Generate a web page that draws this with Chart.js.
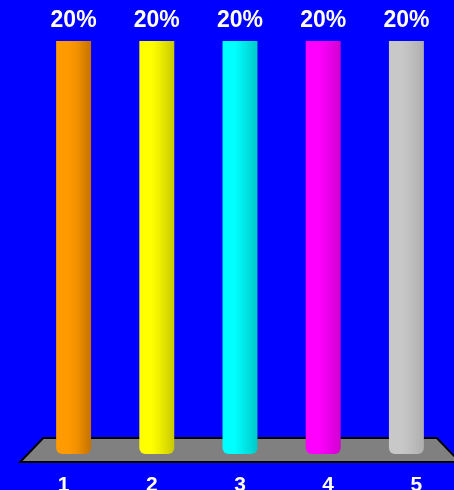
<!DOCTYPE html>
<html>
<head>
<meta charset="utf-8">
<script src="https://cdn.jsdelivr.net/npm/chart.js@4"></script>
<style>
html,body{margin:0;padding:0;background:#0000FF;}
#wrap{width:454px;height:490px;position:relative;}
</style>
</head>
<body>
<div id="wrap"><canvas id="c" width="454" height="490"></canvas></div>
<script>
const categories = ['1', '2', '3', '4', '5'];
const values = [20, 20, 20, 20, 20];
const percentLabels = ['20%', '20%', '20%', '20%', '20%'];
const baseColors = [
  ['#FF9A00', '#F29000', '#C47200'],
  ['#FFFF00', '#EDED00', '#C8C800'],
  ['#00FFFF', '#00EAEA', '#00C8C8'],
  ['#FF00FF', '#F000F0', '#D000D0'],
  ['#C8C8C8', '#C0C0C0', '#AEAEAE']
];
const BAR_PCT = 0.42;

function barGradient(ctx) {
  const chart = ctx.chart;
  const xs = chart.scales.x;
  if (!chart.chartArea || !xs) return baseColors[ctx.dataIndex][0];
  const cx = xs.getPixelForValue(ctx.dataIndex);
  const w = (xs.right - xs.left) / categories.length * BAR_PCT;
  const g = chart.ctx.createLinearGradient(cx - w / 2, 0, cx + w / 2, 0);
  const c = baseColors[ctx.dataIndex];
  g.addColorStop(0, c[0]);
  g.addColorStop(0.35, c[0]);
  g.addColorStop(0.6, c[1]);
  g.addColorStop(1, c[2]);
  return g;
}

const floorPlugin = {
  id: 'floor',
  beforeDatasetsDraw(chart) {
    const a = chart.chartArea;
    const ctx = chart.ctx;
    const mid = (a.left + a.right) / 2;
    const half = (a.right - a.left) / 2;
    const yTop = a.bottom - 16, yBot = a.bottom + 8;
    ctx.save();
    ctx.beginPath();
    ctx.moveTo(mid - half * 0.946, yTop);
    ctx.lineTo(mid + half * 0.946, yTop);
    ctx.lineTo(mid + half * 1.057, yBot);
    ctx.lineTo(mid - half * 1.057, yBot);
    ctx.closePath();
    ctx.fillStyle = '#808080';
    ctx.fill();
    ctx.lineWidth = 2;
    ctx.strokeStyle = '#000000';
    ctx.stroke();
    ctx.restore();
  },
  afterDatasetsDraw(chart) {
    const a = chart.chartArea;
    const ctx = chart.ctx;
    const meta = chart.getDatasetMeta(0);
    const mid = (a.left + a.right) / 2;
    ctx.save();
    ctx.fillStyle = '#FFFFFF';
    ctx.textAlign = 'center';
    ctx.textBaseline = 'alphabetic';
    ctx.font = 'bold 23px "Liberation Sans", Arial, sans-serif';
    meta.data.forEach((bar, i) => {
      ctx.fillText(percentLabels[i], bar.x, bar.y - 14);
    });
    ctx.font = 'bold 21px "Liberation Sans", Arial, sans-serif';
    meta.data.forEach((bar, i) => {
      const lx = mid + (bar.x - mid) * 1.06;
      ctx.fillText(categories[i], lx, a.bottom + 37);
    });
    ctx.restore();
  }
};

new Chart(document.getElementById('c'), {
  type: 'bar',
  data: {
    labels: categories,
    datasets: [{
      data: values,
      backgroundColor: barGradient,
      borderWidth: 0,
      borderSkipped: false,
      borderRadius: {topLeft: 0, topRight: 0, bottomLeft: 6, bottomRight: 6},
      barPercentage: BAR_PCT,
      categoryPercentage: 1
    }]
  },
  options: {
    responsive: false,
    animation: false,
    layout: {padding: {left: 32, right: 6, top: 41, bottom: 36}},
    plugins: {legend: {display: false}, tooltip: {enabled: false}},
    scales: {
      x: {display: false, offset: true},
      y: {display: false, min: 0, max: 20}
    }
  },
  plugins: [floorPlugin]
});
</script>
</body>
</html>
